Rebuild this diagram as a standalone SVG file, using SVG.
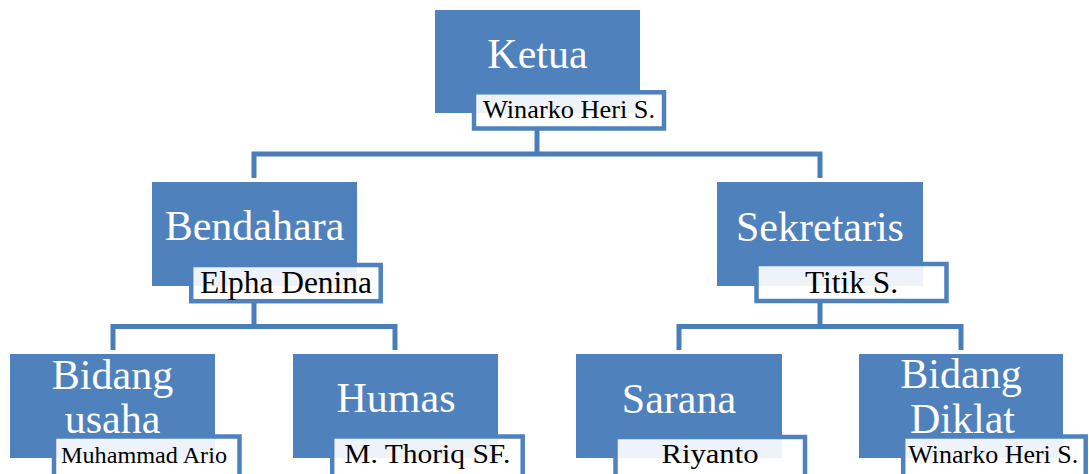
<svg xmlns="http://www.w3.org/2000/svg" width="1089" height="474" viewBox="0 0 1089 474">
<style>
.box{fill:#4F81BD}
.lbl{fill:#FFFFFF;fill-opacity:0.9;stroke:#4F81BD;stroke-width:4.5}
.title{font-family:"Liberation Serif","Times New Roman",serif;font-size:42px;fill:#FFFFFF;text-anchor:middle}
.name{font-family:"Liberation Serif","Times New Roman",serif;fill:#000000;text-anchor:middle}
.conn{fill:none;stroke:#4A7EBB;stroke-width:5}
</style>
<rect width="1089" height="474" fill="#FFFFFF"/>
<g id="connectors">
<path class="conn" d="M537,130 V154"/>
<path class="conn" d="M254,178 V154 H820 V178"/>
<path class="conn" d="M254,303 V326.5"/>
<path class="conn" d="M113,350 V326.5 H395 V350"/>
<path class="conn" d="M820,303 V326.5"/>
<path class="conn" d="M679,350 V326.5 H961 V350"/>
</g>
<g id="ketua">
<rect class="box" x="435" y="10" width="205" height="103"/>
<text class="title" x="537.5" y="68.3">Ketua</text>
<rect class="lbl" x="474" y="92.3" width="190" height="36.2"/>
<text class="name" x="569" y="118.3" font-size="25.5" textLength="172" lengthAdjust="spacingAndGlyphs">Winarko Heri S.</text>
</g>
<g id="bendahara">
<rect class="box" x="152" y="182" width="205" height="104"/>
<text class="title" x="254.5" y="240">Bendahara</text>
<rect class="lbl" x="191.2" y="265" width="189.5" height="36.2"/>
<text class="name" x="286" y="293.3" font-size="32" textLength="172" lengthAdjust="spacingAndGlyphs">Elpha Denina</text>
</g>
<g id="sekretaris">
<rect class="box" x="717" y="182" width="206" height="104"/>
<text class="title" x="820" y="240.7">Sekretaris</text>
<rect class="lbl" x="756.5" y="264" width="190" height="37"/>
<text class="name" x="851.5" y="293.3" font-size="32" textLength="93" lengthAdjust="spacingAndGlyphs">Titik S.</text>
</g>
<g id="bidang-usaha">
<rect class="box" x="10" y="354" width="205" height="104"/>
<text class="title"><tspan x="112.5" y="388.5">Bidang</tspan><tspan x="112.5" y="433.2">usaha</tspan></text>
<rect class="lbl" x="54" y="436.5" width="185.5" height="40"/>
<text class="name" x="144" y="463.3" font-size="23" textLength="166" lengthAdjust="spacingAndGlyphs">Muhammad Ario</text>
</g>
<g id="humas">
<rect class="box" x="293" y="354" width="205" height="104"/>
<text class="title" x="396" y="411.7">Humas</text>
<rect class="lbl" x="332.2" y="436.5" width="190.5" height="40"/>
<text class="name" x="427.3" y="463.3" font-size="27" textLength="166" lengthAdjust="spacingAndGlyphs">M. Thoriq SF.</text>
</g>
<g id="sarana">
<rect class="box" x="576" y="354" width="206" height="104"/>
<text class="title" x="679" y="412.7">Sarana</text>
<rect class="lbl" x="615.5" y="437" width="189.5" height="40"/>
<text class="name" x="710" y="463.3" font-size="27" textLength="97" lengthAdjust="spacingAndGlyphs">Riyanto</text>
</g>
<g id="bidang-diklat">
<rect class="box" x="859" y="354" width="204" height="104"/>
<text class="title"><tspan x="961" y="388.3">Bidang</tspan><tspan x="962.5" y="433">Diklat</tspan></text>
<rect class="lbl" x="903.2" y="436.5" width="182.5" height="40"/>
<text class="name" x="993.3" y="463.3" font-size="26" textLength="170" lengthAdjust="spacingAndGlyphs">Winarko Heri S.</text>
</g>
</svg>
